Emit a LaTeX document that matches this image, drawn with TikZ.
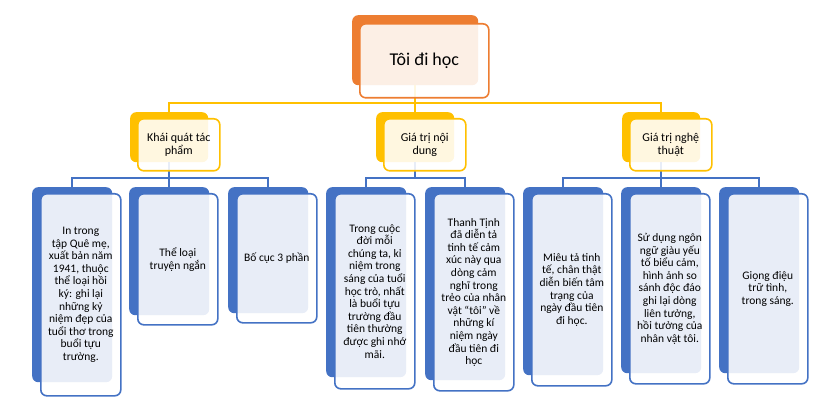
\documentclass[tikz,border=0pt]{standalone}
\usepackage{fontspec}
\setmainfont{Carlito}
\definecolor{orng}{HTML}{ED7D31}
\definecolor{yel}{HTML}{FFC000}
\definecolor{blu}{HTML}{4472C4}
\tikzset{
  box/.style={rectangle, rounded corners=6pt, inner sep=0pt, anchor=north west, align=center},
  frontbox/.style={box, fill=white, fill opacity=0.88, draw opacity=1, text opacity=1, line width=1.6pt},
  rootback/.style={box, fill=orng},
  rootfront/.style={frontbox, draw=orng, font=\fontsize{18}{21}\selectfont},
  ltwoback/.style={box, fill=yel},
  ltwofront/.style={frontbox, draw=yel, font=\fontsize{12}{13.2}\selectfont},
  lthreeback/.style={box, fill=blu},
  lthreefront/.style={frontbox, draw=blu, font=\fontsize{11.5}{12.6}\selectfont},
  yline/.style={draw=yel, line width=1.6pt},
  bline/.style={draw=blu, line width=1.6pt},
}
\begin{document}
\begin{tikzpicture}[x=1pt, y=-1pt]
\useasboundingbox (0,0) rectangle (834,403);
% back shapes
\node[rootback, minimum width=126pt, minimum height=70pt] (rootb) at (352,15) {};
\node[ltwoback, minimum width=78pt, minimum height=50pt] (ab) at (130,112) {};
\node[ltwoback, minimum width=78pt, minimum height=50pt] (bb) at (376,112) {};
\node[ltwoback, minimum width=78pt, minimum height=50pt] (cb) at (622,112) {};
\node[lthreeback, minimum width=80pt, minimum height=195pt] (a1b) at (32,187) {};
\node[lthreeback, minimum width=80pt, minimum height=128pt] (a2b) at (129,187) {};
\node[lthreeback, minimum width=80pt, minimum height=126pt] (a3b) at (228,187) {};
\node[lthreeback, minimum width=80pt, minimum height=190pt] (b1b) at (326,187) {};
\node[lthreeback, minimum width=80pt, minimum height=193pt] (b2b) at (425,187) {};
\node[lthreeback, minimum width=80pt, minimum height=188pt] (c1b) at (523,187) {};
\node[lthreeback, minimum width=80pt, minimum height=186pt] (c2b) at (621,187) {};
\node[lthreeback, minimum width=80pt, minimum height=186pt] (c3b) at (719,187) {};
% junctions
\coordinate (jy) at (0,103);
\coordinate (jb) at (0,178);
% connectors
\draw[yline] (rootb.south) -- (rootb.south |- jy) -| (ab.north);
\draw[yline] (rootb.south |- jy) -| (cb.north);
\draw[yline] (rootb.south |- jy) -- (bb.north);
\draw[bline] (ab.south) -- (ab.south |- jb) -| (a1b.north);
\draw[bline] (ab.south |- jb) -| (a3b.north);
\draw[bline] (ab.south |- jb) -- (a2b.north);
\draw[bline] (bb.south) -- (bb.south |- jb) -| (b1b.north);
\draw[bline] (bb.south |- jb) -| (b2b.north);
\draw[bline] (cb.south) -- (cb.south |- jb) -| (c1b.north);
\draw[bline] (cb.south |- jb) -| (c3b.north);
\draw[bline] (cb.south |- jb) -- (c2b.north);
% front shapes
\node[rootfront, minimum width=129pt, minimum height=74pt] (root) at (359,23) {Tôi đi học};
\node[ltwofront, minimum width=82pt, minimum height=52pt] (a) at (137,118) {Khái quát tác\\phẩm};
\node[ltwofront, minimum width=82pt, minimum height=52pt] (b) at (383,118) {Giá trị nội\\dung};
\node[ltwofront, minimum width=82pt, minimum height=52pt] (c) at (629,118) {Giá trị nghệ\\thuật};
\node[lthreefront, minimum width=80pt, minimum height=202pt] (a1) at (40,193) {In trong\\tập Quê mẹ,\\xuất bản năm\\1941, thuộc\\thể loại hồi\\ký: ghi lại\\những kỷ\\niệm đẹp của\\tuổi thơ trong\\buổi tựu\\trường.};
\node[lthreefront, minimum width=80pt, minimum height=131pt] (a2) at (137,193) {Thể loại\\truyện ngắn};
\node[lthreefront, minimum width=80pt, minimum height=129pt] (a3) at (236,193) {Bố cục 3 phần};
\node[lthreefront, minimum width=80pt, minimum height=195pt] (b1) at (334,193) {Trong cuộc\\đời mỗi\\chúng ta, kỉ\\niệm trong\\sáng của tuổi\\học trò, nhất\\là buổi tựu\\trường đầu\\tiên thường\\được ghi nhớ\\mãi.};
\node[lthreefront, minimum width=80pt, minimum height=197pt] (b2) at (433,193) {Thanh Tịnh\\đã diễn tả\\tinh tế cảm\\xúc này qua\\dòng cảm\\nghĩ trong\\trẻo của nhân\\vật “tôi” về\\những kí\\niệm ngày\\đầu tiên đi\\học};
\node[lthreefront, minimum width=80pt, minimum height=192pt] (c1) at (531,193) {Miêu tả tinh\\tế, chân thật\\diễn biến tâm\\trạng của\\ngày đầu tiên\\đi học.};
\node[lthreefront, minimum width=80pt, minimum height=190pt] (c2) at (629,193) {Sử dụng ngôn\\ngữ giàu yếu\\tố biểu cảm,\\hình ảnh so\\sánh độc đáo\\ghi lại dòng\\liên tưởng,\\hồi tưởng của\\nhân vật tôi.};
\node[lthreefront, minimum width=80pt, minimum height=190pt] (c3) at (727,193) {Giọng điệu\\trữ tình,\\trong sáng.};
\end{tikzpicture}
\end{document}
